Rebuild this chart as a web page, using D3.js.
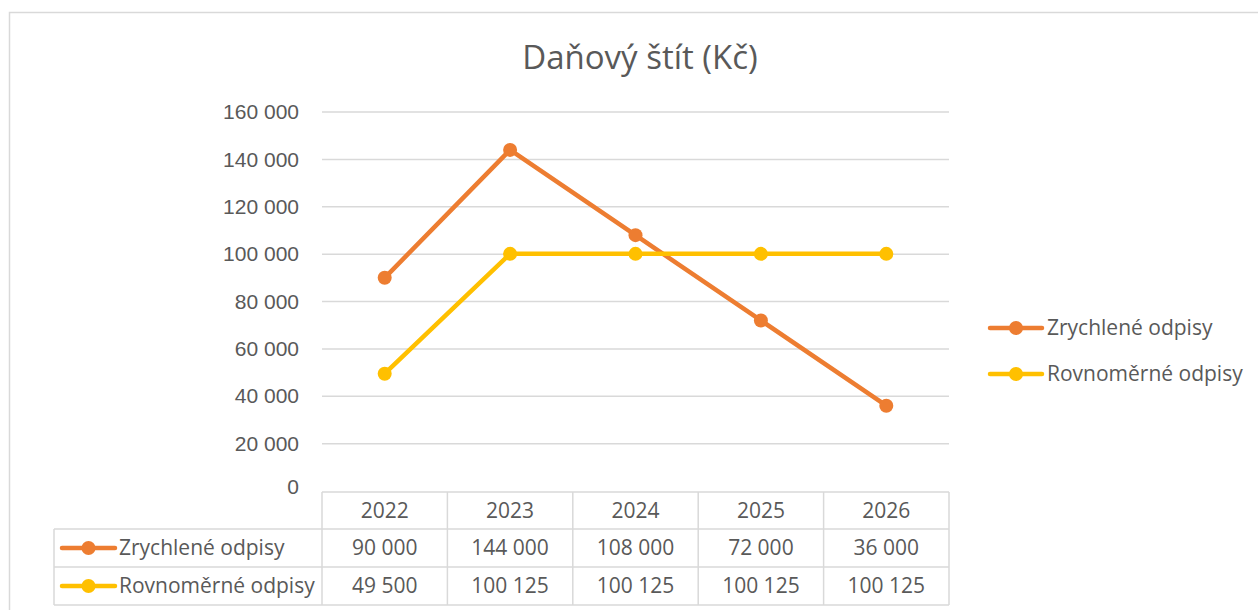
<!DOCTYPE html>
<meta charset="utf-8">
<script src="https://d3js.org/d3.v7.min.js"></script>
<style>
  body { margin: 0; background: #fff; }
  text { fill: #595959; }
</style>
<div id="chart"></div>
<script>
// data
var years = ["2022", "2023", "2024", "2025", "2026"];
var zrychlene = [90000, 144000, 108000, 72000, 36000];
var rovnomerne = [49500, 100125, 100125, 100125, 100125];
var yTicks = [0, 20000, 40000, 60000, 80000, 100000, 120000, 140000, 160000];
var seriesNames = ["Zrychlené odpisy", "Rovnoměrné odpisy"];
var seriesColors = ["#ED7D31", "#FFC000"];

var series = [zrychlene, rovnomerne].map(function(v, i) {
  return { name: seriesNames[i], color: seriesColors[i], values: v };
});

var W = 1258, H = 610;
var plot = { left: 322, right: 949, top: 112, bottom: 491 };
var font = "Open Sans, sans-serif";
var fmt = function(d) { return d3.format(",")(d).replace(/,/g, " "); };

var svg = d3.select("#chart").append("svg")
  .attr("width", W).attr("height", H);

// chart frame
svg.append("rect")
  .attr("x", 9.5).attr("y", 12.5)
  .attr("width", W + 20).attr("height", H + 20)
  .attr("fill", "none").attr("stroke", "#D9D9D9").attr("stroke-width", 1.5);

// title
svg.append("text")
  .attr("x", 640).attr("y", 69)
  .attr("text-anchor", "middle")
  .style("font-family", font).style("font-size", "33px")
  .text("Daňový štít (Kč)");

var x = d3.scaleBand().domain(years).range([plot.left, plot.right]);
var y = d3.scaleLinear().domain([0, 160000]).range([plot.bottom, plot.top]);

// gridlines
svg.append("g").selectAll("line")
  .data(yTicks.slice(1))
  .enter().append("line")
  .attr("x1", plot.left).attr("x2", plot.right)
  .attr("y1", function(d) { return y(d); })
  .attr("y2", function(d) { return y(d); })
  .attr("stroke", "#D9D9D9").attr("stroke-width", 1.5);

// y axis
var yAxis = svg.append("g")
  .attr("transform", "translate(" + (plot.left - 23) + ",0)")
  .call(d3.axisLeft(y).tickValues(yTicks).tickFormat(fmt).tickSize(0).tickPadding(0));
yAxis.select(".domain").remove();
yAxis.selectAll("text")
  .style("font-family", "Liberation Sans, Arial, sans-serif")
  .style("font-size", "21px").attr("fill", "#595959");
yAxis.selectAll("text").filter(function(d) { return d === 0; }).attr("dy", "0.1em");

// lines and markers
var line = d3.line()
  .x(function(d, i) { return x(years[i]) + x.bandwidth() / 2; })
  .y(function(d) { return y(d); });

series.forEach(function(s) {
  svg.append("path")
    .datum(s.values)
    .attr("d", line)
    .attr("fill", "none")
    .attr("stroke", s.color).attr("stroke-width", 4.5)
    .attr("stroke-linejoin", "round");
  svg.append("g").selectAll("circle")
    .data(s.values)
    .enter().append("circle")
    .attr("cx", function(d, i) { return x(years[i]) + x.bandwidth() / 2; })
    .attr("cy", function(d) { return y(d); })
    .attr("r", 7)
    .attr("fill", s.color);
});

// legend
function swatch(g, x0, x1, yy, color) {
  g.append("line").attr("x1", x0).attr("x2", x1).attr("y1", yy).attr("y2", yy)
    .attr("stroke", color).attr("stroke-width", 4.5).attr("stroke-linecap", "round");
  g.append("circle").attr("cx", (x0 + x1) / 2).attr("cy", yy).attr("r", 7).attr("fill", color);
}
var legend = svg.append("g");
series.forEach(function(s, i) {
  var yy = 328 + i * 46;
  swatch(legend, 990, 1042, yy, s.color);
  legend.append("text")
    .attr("x", 1047).attr("y", yy).attr("dy", "0.35em")
    .style("font-family", font).style("font-size", "21px")
    .text(s.name);
});

// data table
var rowH = [plot.bottom + 1, 529, 567, 605];
var tableLeft = 54;
var table = svg.append("g");
var gridColor = "#D9D9D9";

// horizontal borders
table.append("line").attr("x1", plot.left).attr("x2", plot.right)
  .attr("y1", rowH[0]).attr("y2", rowH[0]).attr("stroke", gridColor).attr("stroke-width", 1.5);
[1, 2, 3].forEach(function(r) {
  table.append("line").attr("x1", tableLeft).attr("x2", plot.right)
    .attr("y1", rowH[r]).attr("y2", rowH[r]).attr("stroke", gridColor).attr("stroke-width", 1.5);
});
// vertical borders
table.append("line").attr("x1", tableLeft).attr("x2", tableLeft)
  .attr("y1", rowH[1]).attr("y2", rowH[3]).attr("stroke", gridColor).attr("stroke-width", 1.5);
years.concat(["end"]).forEach(function(yr, i) {
  var xx = i < years.length ? x(yr) : plot.right;
  table.append("line").attr("x1", xx).attr("x2", xx)
    .attr("y1", rowH[0]).attr("y2", rowH[3]).attr("stroke", gridColor).attr("stroke-width", 1.5);
});

// header
table.selectAll(".hdr").data(years).enter().append("text")
  .attr("x", function(d) { return x(d) + x.bandwidth() / 2; })
  .attr("y", (rowH[0] + rowH[1]) / 2).attr("dy", "0.35em")
  .attr("text-anchor", "middle")
  .style("font-family", font).style("font-size", "21px")
  .text(function(d) { return d; });

// rows
series.forEach(function(s, r) {
  var cy = (rowH[r + 1] + rowH[r + 2]) / 2;
  swatch(table, 62, 115, cy, s.color);
  table.append("text").attr("x", 119).attr("y", cy).attr("dy", "0.35em")
    .style("font-family", font).style("font-size", "21px").text(s.name);
  table.append("g").selectAll("text").data(s.values).enter().append("text")
    .attr("x", function(d, i) { return x(years[i]) + x.bandwidth() / 2; })
    .attr("y", cy).attr("dy", "0.35em")
    .attr("text-anchor", "middle")
    .style("font-family", font).style("font-size", "21px")
    .text(function(d) { return fmt(d); });
});
</script>
